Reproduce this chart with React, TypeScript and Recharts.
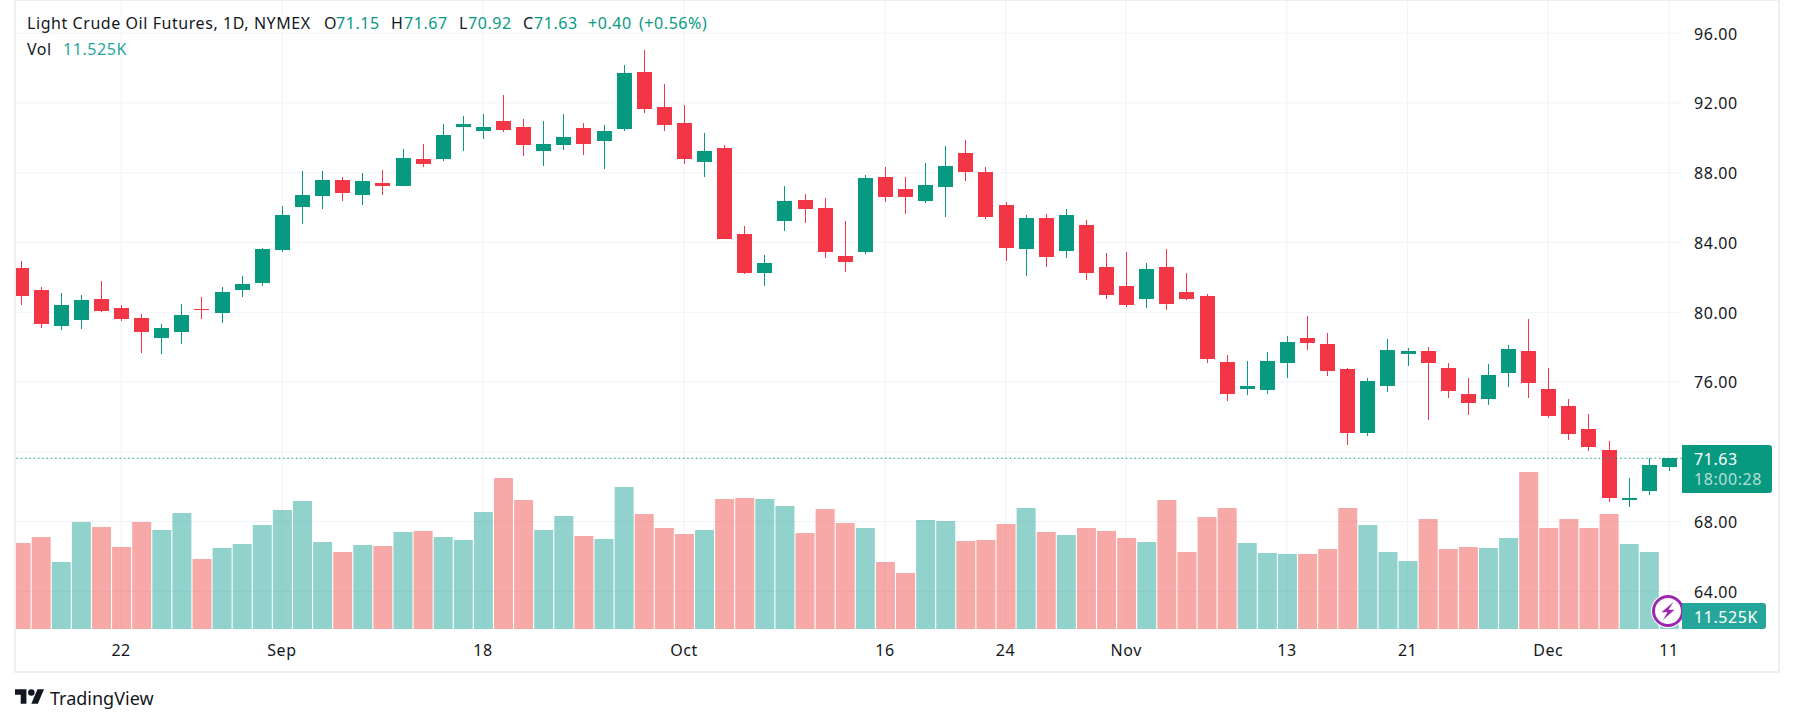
import { Bar, CartesianGrid, Cell, ComposedChart, ReferenceLine, XAxis, YAxis } from "recharts";

const opens = [
  82.54, 81.28, 79.21, 79.56, 80.76, 80.24, 79.67, 78.52, 78.87, 80.19, 79.96, 81.28, 81.68, 83.57, 86.04, 86.67, 87.59,
  86.73, 87.41, 87.24, 88.79, 88.79, 90.63, 90.4, 90.97, 90.63, 89.25, 89.59, 90.57, 89.82, 90.51, 93.78, 91.77, 90.86,
  88.62, 89.42, 84.49, 82.25, 85.23, 86.44, 85.98, 83.23, 83.46, 87.76, 87.07, 86.38, 87.19, 89.14, 88.05, 86.15, 83.63,
  85.41, 83.51, 85.01, 82.6, 81.51, 80.76, 82.6, 81.16, 80.93, 77.15, 75.6, 75.54, 77.09, 78.52, 78.18, 76.75, 73.07,
  75.77, 77.61, 77.78, 76.8, 75.31, 75.03, 76.52, 77.78, 75.6, 74.62, 73.3, 72.1, 69.23, 69.75, 71.15,
];
const highs = [
  82.94, 81.45, 81.1, 80.99, 81.79, 80.42, 79.9, 79.33, 80.47, 80.88, 81.45, 82.08, 83.69, 86.1, 88.1, 88.1, 87.76, 87.99,
  88.16, 89.37, 89.65, 90.8, 91.26, 91.37, 92.46, 91.09, 90.97, 91.37, 90.86, 90.74, 94.18, 95.04, 93.09, 91.89, 90.28,
  89.59, 84.95, 83.28, 87.24, 86.78, 86.55, 85.23, 87.87, 88.33, 87.76, 88.56, 89.54, 89.88, 88.33, 86.33, 85.58, 85.64,
  85.92, 85.29, 83.4, 83.46, 82.83, 83.63, 82.25, 81.05, 77.55, 77.2, 77.72, 78.64, 79.79, 78.81, 76.8, 76.23, 78.47,
  77.95, 78.01, 77.09, 76.23, 77.03, 78.12, 79.61, 76.8, 75.03, 74.16, 72.62, 70.49, 71.64, 71.67,
];
const lows = [
  80.42, 79.1, 78.98, 79.04, 80.02, 79.5, 77.66, 77.61, 78.18, 79.61, 79.38, 80.88, 81.51, 83.46, 85.06, 85.92, 86.38,
  86.15, 86.73, 87.22, 88.33, 88.68, 89.25, 89.94, 90.34, 88.96, 88.39, 89.31, 89.02, 88.22, 90.4, 91.43, 90.4, 88.51,
  87.76, 84.18, 82.2, 81.51, 84.66, 85.12, 83.11, 82.31, 83.34, 86.33, 85.64, 86.27, 85.47, 87.53, 85.35, 82.94, 82.08,
  82.6, 83.11, 81.85, 80.76, 80.3, 80.24, 80.13, 80.7, 77.09, 74.91, 75.25, 75.31, 76.23, 77.84, 76.34, 72.39, 72.9,
  75.43, 76.92, 73.82, 75.08, 74.11, 74.68, 75.71, 75.08, 73.94, 72.67, 72.04, 69.12, 68.83, 69.52, 70.92,
];
const closes = [
  80.93, 79.33, 80.42, 80.7, 80.07, 79.61, 78.87, 79.1, 79.84, 80.13, 81.16, 81.62, 83.63, 85.58, 86.73, 87.59, 86.84,
  87.53, 87.24, 88.85, 88.51, 90.17, 90.8, 90.63, 90.45, 89.59, 89.65, 90.05, 89.65, 90.4, 93.72, 91.66, 90.74, 88.79,
  89.25, 84.2, 82.25, 82.83, 86.38, 85.92, 83.46, 82.88, 87.7, 86.61, 86.61, 87.3, 88.39, 88.05, 85.47, 83.69, 85.41,
  83.17, 85.58, 82.25, 80.99, 80.42, 82.48, 80.47, 80.76, 77.32, 75.31, 75.77, 77.2, 78.29, 78.24, 76.63, 73.07, 76.06,
  77.84, 77.78, 77.09, 75.48, 74.8, 76.4, 77.89, 75.94, 74.05, 73.02, 72.27, 69.35, 69.35, 71.24, 71.63,
];
// thousands of contracts
const volumes = [
  148.8, 159.2, 115.9, 185.1, 176.5, 141.9, 185.1, 171.3, 200.7, 121.1, 140.1, 147.1, 179.9, 205.9, 221.5, 150.5, 133.2,
  145.3, 143.6, 167.8, 169.6, 159.2, 154, 202.4, 261.3, 223.2, 171.3, 195.5, 160.9, 155.7, 245.7, 199, 174.7, 164.4, 171.3,
  224.9, 226.6, 224.9, 212.8, 166.1, 207.6, 183.4, 174.7, 115.9, 96.9, 188.6, 186.9, 152.2, 154, 181.7, 209.3, 167.8, 162.6,
  174.7, 169.6, 157.4, 150.5, 223.2, 133.2, 193.8, 209.3, 148.8, 131.5, 129.8, 129.8, 138.4, 209.3, 179.9, 133.2, 117.6,
  190.3, 138.4, 141.9, 140.1, 157.4, 271.6, 174.7, 190.3, 174.7, 199, 147.1, 133.2, 11.525,
];
const tickDays = [5, 13, 23, 33, 43, 49, 55, 63, 69, 76, 82];
const tickLabels = ["22", "Sep", "18", "Oct", "16", "24", "Nov", "13", "21", "Dec", "11"];
const priceTicks = [64, 68, 72, 76, 80, 84, 88, 92, 96];
const lastPrice = 71.63;

const UP = "#089981";
const DOWN = "#f23645";
const VOL_UP = "#26a69a";
const VOL_DOWN = "#ef5350";
const GRID = "#f0f3fa";
const FRAME = "#eeeef5";
const INK = "#131722";
const FONT = "'Noto Sans', sans-serif";

const data = closes.map((close, day) => ({
  day,
  open: opens[day],
  high: highs[day],
  low: lows[day],
  close,
  range: [lows[day], highs[day]],
  volume: volumes[day],
}));

function Candle(props: any) {
  const { x, y, width, height, payload } = props;
  const perUnit = height / (payload.high - payload.low);
  const top = y + (payload.high - Math.max(payload.open, payload.close)) * perUnit;
  const bottom = y + (payload.high - Math.min(payload.open, payload.close)) * perUnit;
  const color = payload.close >= payload.open ? UP : DOWN;
  return (
    <g shapeRendering="crispEdges">
      <rect x={x + width / 2 - 0.5} y={y} width={1} height={height} fill={color} />
      <rect x={x} y={top} width={width} height={Math.max(bottom - top, 1)} fill={color} />
    </g>
  );
}

function Label({ x, y, color = INK, children }: { x: number; y: number; color?: string; children: any }) {
  return (
    <span
      style={{
        position: "absolute",
        left: x,
        top: y - 9,
        lineHeight: "18px",
        fontSize: 16,
        letterSpacing: 0.56,
        color,
        whiteSpace: "nowrap",
      }}
    >
      {children}
    </span>
  );
}

export default function App() {
  return (
    <div
      style={{
        position: "absolute",
        left: 0,
        top: 0,
        width: 1793,
        height: 724,
        background: "#fff",
        fontFamily: FONT,
        overflow: "hidden",
      }}
    >
      <div style={{ position: "absolute", left: 0, top: 0 }}>
        <ComposedChart width={1793} height={672} data={data} margin={{ top: 1, right: 15, bottom: 0, left: 15 }}>
          <CartesianGrid xAxisId="candles" yAxisId="price" stroke={GRID} syncWithTicks />
          <XAxis
            xAxisId="candles"
            dataKey="day"
            type="number"
            domain={[-0.28, 82.65]}
            allowDataOverflow
            ticks={tickDays}
            interval={0}
            height={43}
            tickFormatter={(d: number) => tickLabels[tickDays.indexOf(d)]}
            tick={{ fontSize: 16, fill: INK, fontFamily: FONT, letterSpacing: 0.56 }}
            tickLine={false}
            axisLine={false}
            tickSize={0}
            tickMargin={16}
          />
          <XAxis xAxisId="volumes" dataKey="day" type="number" domain={[-0.28, 82.65]} allowDataOverflow hide />
          <YAxis
            yAxisId="price"
            orientation="right"
            width={96}
            domain={[61.84, 97.85]}
            ticks={priceTicks}
            interval={0}
            // the 72 label sits behind the last price tag, only its grid line shows
            tickFormatter={(v: number) => (v === 72 ? "" : v.toFixed(2))}
            tick={{ fontSize: 16, fill: INK, fontFamily: FONT, letterSpacing: 0.56, dy: 0.7 }}
            tickLine={false}
            axisLine={false}
            tickSize={0}
            tickMargin={12}
          />
          <YAxis yAxisId="vol" hide domain={[0, 1086]} />
          <Bar xAxisId="volumes" yAxisId="vol" dataKey="volume" barSize={19} isAnimationActive={false}>
            {data.map((d) => (
              <Cell key={d.day} fill={d.close >= d.open ? VOL_UP : VOL_DOWN} fillOpacity={0.5} />
            ))}
          </Bar>
          <ReferenceLine
            xAxisId="candles"
            yAxisId="price"
            y={lastPrice}
            stroke={UP}
            strokeWidth={1.2}
            strokeDasharray="1.5 2.8"
          />
          <Bar
            xAxisId="candles"
            yAxisId="price"
            dataKey="range"
            barSize={15}
            shape={Candle}
            isAnimationActive={false}
          />
        </ComposedChart>
      </div>

      {/* frame */}
      <div
        style={{
          position: "absolute",
          left: 14,
          top: -1,
          width: 1762,
          height: 670,
          border: `2px solid ${FRAME}`,
        }}
      />

      {/* legend */}
      <Label x={27} y={23}>Light Crude Oil Futures, 1D, NYMEX</Label>
      <Label x={324} y={23}>O</Label>
      <Label x={336} y={23} color={UP}>71.15</Label>
      <Label x={391} y={23}>H</Label>
      <Label x={404} y={23} color={UP}>71.67</Label>
      <Label x={459} y={23}>L</Label>
      <Label x={468} y={23} color={UP}>70.92</Label>
      <Label x={523} y={23}>C</Label>
      <Label x={534} y={23} color={UP}>71.63</Label>
      <Label x={588} y={23} color={UP}>+0.40</Label>
      <Label x={639} y={23} color={UP}>(+0.56%)</Label>
      <Label x={27} y={49}>Vol</Label>
      <Label x={63} y={49} color="#26a69a">11.525K</Label>

      {/* live-data badge */}
      <svg style={{ position: "absolute", left: 1648, top: 591 }} width={40} height={40}>
        <circle cx={20} cy={20} r={17} fill="#fff" />
        <circle cx={20} cy={20} r={14.5} fill="#fff" stroke="#9c27b0" strokeWidth={3} />
        <path d="M25.5 11 L13.5 21.2 L19.5 21.2 L15 29 L26.5 18.8 L20.5 18.8 Z" fill="#9c27b0" />
      </svg>

      {/* price scale labels */}
      <div
        style={{
          position: "absolute",
          left: 1682,
          top: 445,
          width: 90,
          height: 48,
          background: UP,
          borderRadius: "0 3px 3px 0",
        }}
      />
      <Label x={1694} y={459} color="#fff">71.63</Label>
      <Label x={1694} y={479} color="rgba(255,255,255,0.7)">18:00:28</Label>
      <div
        style={{
          position: "absolute",
          left: 1682,
          top: 603,
          width: 84,
          height: 26,
          background: "#26a69a",
          borderRadius: "0 3px 3px 0",
        }}
      />
      <Label x={1694} y={617} color="#fff">11.525K</Label>

      {/* logo */}
      <svg style={{ position: "absolute", left: 15, top: 689 }} width={29} height={15} viewBox="0 4 35.5 18">
        <path d="M14 22H7V11H0V4h14v18zM28 22h-8l7.5-18h8L28 22z" fill={INK} />
        <circle cx={20} cy={8} r={4} fill={INK} />
      </svg>
      <span style={{ position: "absolute", left: 50, top: 686, fontSize: 18, lineHeight: "24px", color: INK }}>
        TradingView
      </span>
    </div>
  );
}
